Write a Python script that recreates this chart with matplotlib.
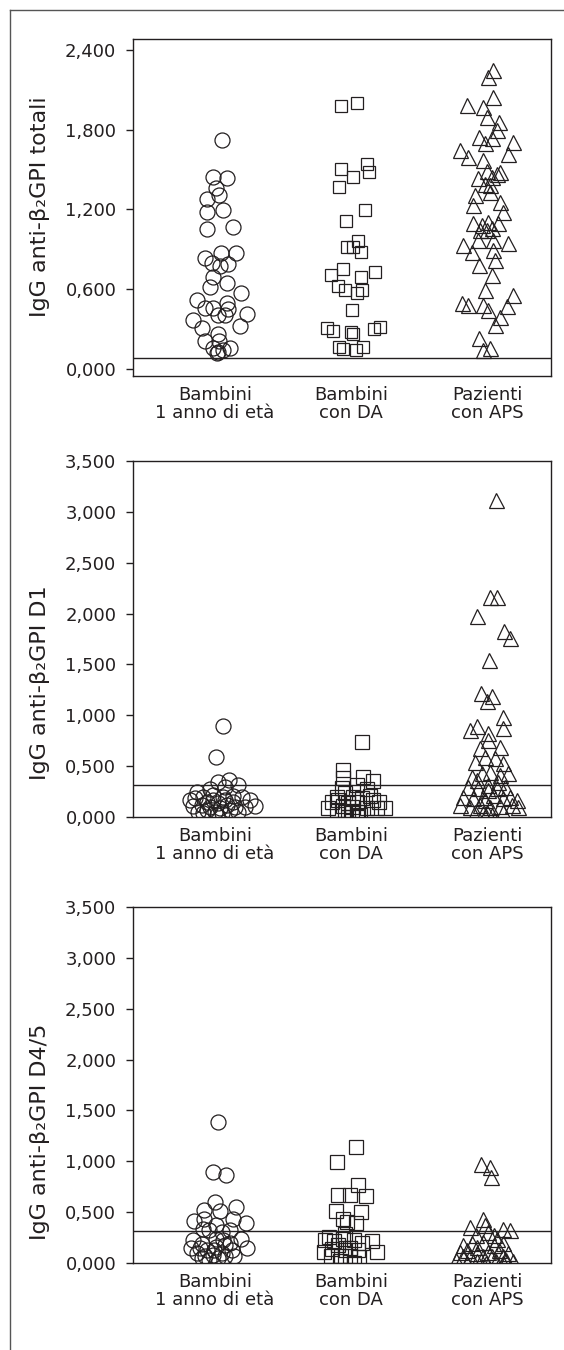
import matplotlib
matplotlib.use('Agg')
import matplotlib.pyplot as plt
from matplotlib.lines import Line2D

plt.rcParams['font.family'] = ['DejaVu Sans']

groups = ['Bambini\n1 anno di età', 'Bambini\ncon DA', 'Pazienti\ncon APS']
cutoffs = [0.084, 0.31, 0.31]
ylabels = ['IgG anti-β₂GPI totali', 'IgG anti-β₂GPI D1', 'IgG anti-β₂GPI D4/5']
ticks_tot = [0.0, 0.6, 1.2, 1.8, 2.4]
ticks_dom = [0.0, 0.5, 1.0, 1.5, 2.0, 2.5, 3.0, 3.5]

# --- IgG anti-b2GPI totali ---
tot_b1 = [1.721, 1.446, 1.434, 1.358, 1.308, 1.276, 1.183, 1.195, 1.051, 1.070,
          0.833, 0.870, 0.870, 0.795, 0.775, 0.790, 0.695, 0.650, 0.620, 0.574,
          0.520, 0.457, 0.457, 0.495, 0.450, 0.407, 0.407, 0.415, 0.369, 0.307,
          0.327, 0.264, 0.214, 0.214, 0.157, 0.157, 0.131, 0.144, 0.119]
tot_b1_dx = [0.054, -0.013, 0.086, 0.007, 0.032, -0.061, -0.057, 0.061, -0.061, 0.135,
             -0.074, 0.042, 0.154, -0.024, 0.037, 0.098, -0.013, 0.090, -0.037, 0.191,
             -0.135, -0.074, -0.017, 0.086, 0.098, 0.024, 0.074, 0.233, -0.160, -0.098,
             0.184, 0.024, -0.074, 0.032, -0.013, 0.110, 0.024, 0.061, 0.013]
tot_da = [1.976, 2.001, 1.501, 1.446, 1.539, 1.483, 1.366, 1.195, 1.113, 0.920,
          0.920, 0.963, 0.882, 0.750, 0.707, 0.732, 0.690, 0.625, 0.595, 0.570,
          0.595, 0.445, 0.307, 0.289, 0.282, 0.264, 0.300, 0.315, 0.169, 0.152,
          0.144, 0.169]
tot_da_dx = [-0.076, 0.042, -0.074, 0.017, 0.115, 0.135, -0.088, 0.103, -0.039, -0.027,
             0.013, 0.054, 0.071, -0.057, -0.147, 0.176, 0.071, -0.093, -0.044, 0.042,
             0.083, 0.005, -0.179, -0.130, 0.000, 0.017, 0.171, 0.213, -0.086, -0.057,
             0.037, 0.086]
tot_aps = [2.247, 2.196, 2.046, 1.984, 1.971, 1.896, 1.859, 1.796, 1.741, 1.734,
           1.696, 1.708, 1.646, 1.591, 1.616, 1.571, 1.491, 1.483, 1.434, 1.446,
           1.466, 1.391, 1.383, 1.308, 1.333, 1.258, 1.233, 1.183, 1.100, 1.083,
           1.108, 1.096, 1.045, 1.045, 1.058, 0.970, 0.970, 0.950, 0.933, 0.882,
           0.895, 0.820, 0.782, 0.707, 0.595, 0.558, 0.495, 0.482, 0.482, 0.445,
           0.475, 0.394, 0.332, 0.232, 0.144, 0.157]
tot_aps_dx = [0.046, 0.010, 0.046, -0.145, -0.027, -0.002, 0.090, 0.071, -0.057, 0.035,
              -0.015, 0.193, -0.195, -0.139, 0.157, -0.027, -0.002, 0.096, -0.064, 0.035,
              0.071, -0.015, 0.022, -0.088, 0.022, 0.096, -0.101, 0.120, -0.101, -0.039,
              0.010, 0.083, -0.051, -0.002, 0.035, -0.064, 0.046, 0.157, -0.179, -0.113,
              0.046, 0.059, -0.057, 0.035, -0.015, 0.193, -0.186, -0.139, -0.027, 0.010,
              0.145, 0.096, 0.059, -0.057, -0.027, 0.022]

# --- IgG anti-b2GPI D1 ---
d1_b1 = [0.895, 0.587, 0.347, 0.364, 0.315, 0.272, 0.292, 0.184, 0.200, 0.216,
         0.200, 0.206, 0.194, 0.167, 0.108, 0.118, 0.101, 0.135, 0.118, 0.101,
         0.095, 0.108, 0.052, 0.069, 0.052, 0.042, 0.069, 0.052, 0.086, 0.167,
         0.167, 0.150, 0.150, 0.167, 0.250, 0.020, 0.036]
d1_b1_dx = [0.057, 0.007, 0.024, 0.105, 0.171, -0.037, 0.074, -0.147, -0.086, -0.013,
            0.061, 0.135, 0.196, 0.257, -0.160, -0.098, -0.037, 0.024, 0.086, 0.147,
            0.221, 0.294, -0.123, -0.061, 0.000, 0.049, 0.110, 0.171, 0.037, 0.074,
            -0.013, -0.061, 0.135, -0.184, -0.135, 0.013, -0.086]
d1_da = [0.735, 0.462, 0.380, 0.396, 0.357, 0.282, 0.315, 0.272, 0.233, 0.200,
         0.184, 0.206, 0.150, 0.167, 0.135, 0.150, 0.150, 0.086, 0.069, 0.052,
         0.036, 0.052, 0.086, 0.086, 0.086, 0.003, 0.000, 0.101, 0.108, 0.200,
         0.167, 0.020]
d1_da_dx = [0.083, -0.061, -0.057, 0.086, 0.160, -0.068, 0.042, 0.115, -0.044, 0.013,
            0.079, 0.140, -0.142, -0.093, -0.020, 0.042, 0.208, -0.167, -0.105, -0.044,
            0.005, 0.054, 0.115, 0.189, 0.250, -0.020, 0.042, 0.005, -0.057, -0.105,
            0.164, 0.066]
d1_aps = [3.117, 2.166, 2.160, 1.976, 1.832, 1.757, 1.544, 1.216, 1.193, 1.144,
          0.986, 0.855, 0.895, 0.823, 0.872, 0.675, 0.757, 0.692, 0.544, 0.593,
          0.577, 0.528, 0.396, 0.429, 0.446, 0.413, 0.429, 0.298, 0.282, 0.315,
          0.282, 0.200, 0.184, 0.200, 0.216, 0.184, 0.200, 0.167, 0.118, 0.101,
          0.118, 0.101, 0.108, 0.118, 0.036, 0.020, 0.052, 0.052, 0.364, 0.347,
          0.298, 0.167, 0.052, 0.101, 0.265]
d1_aps_dx = [0.064, 0.022, 0.076, -0.076, 0.125, 0.169, 0.017, -0.046, 0.039, -0.002,
             0.120, -0.125, -0.076, 0.010, 0.120, -0.051, 0.010, 0.096, -0.088, -0.015,
             0.059, 0.120, -0.113, -0.039, 0.022, 0.096, 0.157, -0.138, -0.064, 0.010,
             0.071, -0.174, -0.101, -0.027, 0.046, 0.120, 0.169, 0.218, -0.199, -0.125,
             -0.051, 0.022, 0.096, 0.182, -0.027, 0.035, -0.002, 0.120, -0.076, 0.083,
             0.132, -0.015, -0.088, 0.230, 0.010]

# --- IgG anti-b2GPI D4/5 ---
d45_b1 = [1.383, 0.891, 0.865, 0.603, 0.519, 0.554, 0.513, 0.433, 0.417, 0.433,
          0.391, 0.369, 0.321, 0.304, 0.321, 0.337, 0.224, 0.240, 0.144, 0.144,
          0.128, 0.160, 0.176, 0.128, 0.144, 0.096, 0.080, 0.096, 0.048, 0.064,
          0.071, 0.128, 0.192, 0.186, 0.240, 0.064, 0.032, 0.048, 0.224]
d45_b1_dx = [0.020, -0.018, 0.082, -0.002, -0.079, 0.153, 0.040, 0.135, -0.155, -0.084,
             0.226, 0.008, -0.045, 0.048, 0.113, -0.090, -0.163, 0.193, -0.176, -0.110,
             -0.058, 0.008, 0.074, 0.126, 0.232, -0.129, -0.018, 0.048, 0.021, 0.074,
             -0.071, -0.005, 0.113, -0.097, 0.008, 0.140, -0.045, -0.097, 0.061]
d45_da = [1.138, 0.994, 0.769, 0.673, 0.657, 0.673, 0.513, 0.497, 0.433, 0.401,
          0.391, 0.224, 0.218, 0.240, 0.231, 0.218, 0.112, 0.135, 0.128, 0.144,
          0.128, 0.112, 0.064, 0.071, 0.064, 0.058, 0.000, 0.176, 0.192, 0.288,
          0.256, 0.016]
d45_da_dx = [0.037, -0.101, 0.054, -0.096, 0.114, -0.004, -0.110, 0.075, -0.057, -0.030,
             0.035, -0.188, -0.123, -0.057, 0.022, 0.154, -0.201, -0.136, -0.044, -0.004,
             0.049, 0.193, -0.149, -0.070, -0.004, 0.062, 0.022, -0.096, 0.080, -0.044,
             -0.163, -0.083]
d45_aps = [0.978, 0.946, 0.849, 0.433, 0.353, 0.337, 0.321, 0.272, 0.304, 0.240,
           0.176, 0.192, 0.208, 0.176, 0.192, 0.112, 0.128, 0.096, 0.112, 0.128,
           0.096, 0.032, 0.000, 0.016, 0.000, 0.016, 0.032, 0.016, 0.064, 0.064,
           0.064, 0.369, 0.160, 0.064, 0.064, 0.272, 0.000]
d45_aps_dx = [-0.043, 0.023, 0.031, -0.030, -0.122, 0.115, 0.168, -0.082, 0.010, 0.076,
              -0.175, -0.109, -0.029, 0.049, 0.115, -0.201, -0.149, -0.070, 0.010, 0.088,
              0.154, -0.227, -0.149, -0.070, -0.004, 0.063, 0.141, 0.194, -0.122, -0.029,
              0.037, -0.017, -0.070, -0.175, 0.115, 0.049, 0.115]

panels = [
    [(tot_b1, tot_b1_dx), (tot_da, tot_da_dx), (tot_aps, tot_aps_dx)],
    [(d1_b1, d1_b1_dx), (d1_da, d1_da_dx), (d1_aps, d1_aps_dx)],
    [(d45_b1, d45_b1_dx), (d45_da, d45_da_dx), (d45_aps, d45_aps_dx)],
]

ink = '#231f20'
markers = ['o', 's', '^']
msizes = [[10.8, 8.3, 10.8], [10.8, 10.0, 10.8], [10.8, 10.0, 10.8]]

W, H = 564, 1350
fig = plt.figure(figsize=(W / 100, H / 100), dpi=100)

# axes boxes in pixels: (left, top, right, bottom)
boxes = [(133, 39, 551, 376), (133, 461, 551, 817), (133, 907, 551, 1263)]
ylims = [(-0.051, 2.48), (0, 3.5), (0, 3.5)]
yticks = [ticks_tot, ticks_dom, ticks_dom]
ylabel_y = [207, 683, 1132]

for i, (l, t, r, b) in enumerate(boxes):
    ax = fig.add_axes([l / W, 1 - b / H, (r - l) / W, (b - t) / H])
    for k, (vals, dx) in enumerate(panels[i]):
        xs = [k + d for d in dx]
        ax.plot(xs, vals, linestyle='none', marker=markers[k], ms=msizes[i][k],
                mfc='none', mec=ink, mew=0.9)
    ax.axhline(cutoffs[i], color=ink, lw=1.0)
    ax.set_xlim(-0.603, 2.471)
    ax.set_ylim(*ylims[i])
    ax.set_yticks(yticks[i])
    ax.set_yticklabels([f'{v:.3f}'.replace('.', ',') for v in yticks[i]])
    ax.set_xticks([0, 1, 2])
    ax.set_xticklabels(groups, linespacing=1.05)
    ax.tick_params(axis='x', length=0, pad=7, labelsize=13, colors=ink)
    ax.tick_params(axis='y', length=5, width=1, pad=7, labelsize=13, colors=ink)
    for sp in ax.spines.values():
        sp.set_color(ink)
        sp.set_linewidth(1.0)
    fig.text(40 / W, 1 - ylabel_y[i] / H, ylabels[i], rotation=90,
             ha='center', va='center', fontsize=16, color=ink)

# outer frame (left and top edges)
fig.add_artist(Line2D([10 / W, 10 / W], [0, 1 - 10 / H], transform=fig.transFigure,
                      color='#555555', lw=1.0))
fig.add_artist(Line2D([10 / W, 1], [1 - 10 / H, 1 - 10 / H], transform=fig.transFigure,
                      color='#555555', lw=1.0))

fig.savefig('out.png', dpi=100)
